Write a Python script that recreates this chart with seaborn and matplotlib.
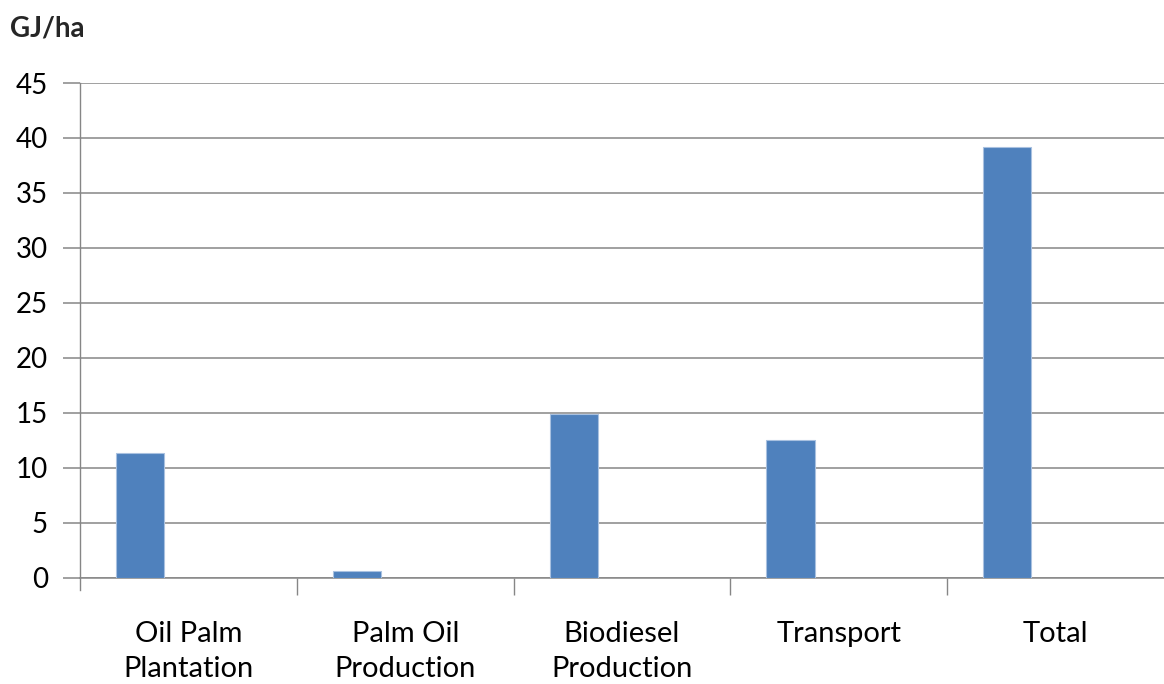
import matplotlib
matplotlib.use("Agg")
import matplotlib.pyplot as plt
from matplotlib.ticker import FixedLocator
import seaborn as sns
import pandas as pd

categories = ["Oil Palm\nPlantation", "Palm Oil\nProduction", "Biodiesel\nProduction", "Transport", "Total"]
values = [11.35, 0.62, 14.9, 12.53, 39.15]
# the source chart reserves room for two further (empty) series in each category
empty_series = ["s2", "s3"]
y_ticks = [0, 5, 10, 15, 20, 25, 30, 35, 40, 45]
unit_label = "GJ/ha"

sns.set_theme(style="white")
plt.rcParams["font.family"] = ["Lato", "DejaVu Sans"]

rows = [{"category": c, "value": v, "series": "s1"} for c, v in zip(categories, values)]
for s in empty_series:
    rows += [{"category": c, "value": 0.0, "series": s} for c in categories]
df = pd.DataFrame(rows)

fig = plt.figure(figsize=(11.64, 6.84), dpi=100)
ax = fig.add_axes([80 / 1164, 1 - 577.7 / 684, (1164 - 80) / 1164, (577.7 - 83) / 684])

sns.barplot(data=df, x="category", y="value", hue="series", hue_order=["s1"] + empty_series,
            order=categories, width=0.667, palette=["#4F81BD"] * 3,
            edgecolor="#A9C1E0", linewidth=0.8, legend=False, ax=ax, zorder=3, saturation=1)
for p in ax.patches:
    if p.get_height() == 0:
        p.set_visible(False)

ax.set_xlim(-0.5, 4.5)
ax.set_ylim(0, 45)
ax.set_yticks(y_ticks)
ax.set_yticklabels([str(t) for t in y_ticks])
ax.grid(axis="y", color="#868686", linewidth=1.1, zorder=0)
ax.set_axisbelow(True)

for s in ["top", "right"]:
    ax.spines[s].set_visible(False)
ax.spines["left"].set_color("#868686")
ax.spines["left"].set_linewidth(1.0)
ax.spines["bottom"].set_color("#868686")
ax.spines["bottom"].set_linewidth(1.1)
ax.spines["left"].set_bounds(-1.1, 45)

ax.tick_params(axis="y", which="major", length=12, width=1.1, color="#868686",
               pad=11, labelsize=20, labelcolor="black", left=True)
ax.tick_params(axis="x", which="major", length=0, pad=31, labelsize=21, labelcolor="black")
ax.xaxis.set_minor_locator(FixedLocator([0.5, 1.5, 2.5, 3.5]))
ax.tick_params(axis="x", which="minor", length=12, width=1.0, color="#868686", bottom=True)
for lab in ax.get_xticklabels():
    lab.set_linespacing(1.45)

ax.set_xlabel("")
ax.set_ylabel("")

fig.text(10 / 1164, 1 - 28 / 684, unit_label, fontsize=20, fontweight="bold", va="center", ha="left")

fig.savefig("out.png", dpi=100)
